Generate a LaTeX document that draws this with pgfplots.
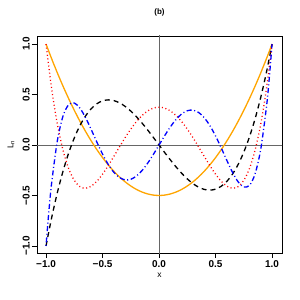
\documentclass[border=0pt]{standalone}
\usepackage{pgfplots}
\pgfplotsset{compat=1.18}
\usepackage{fontspec}
\setmainfont{Liberation Sans}
\definecolor{rorange}{HTML}{FFA500}
\definecolor{rblue}{HTML}{0000FF}
\definecolor{rred}{HTML}{FF0000}
\begin{document}
\begin{tikzpicture}
\path[use as bounding box] (-37bp,-47bp) rectangle (263bp,253bp);
\begin{axis}[
  at={(0,0)}, anchor=south west,
  scale only axis, width=245bp, height=217bp,
  xmin=-1.08, xmax=1.088, ymin=-1.07, ymax=1.08,
  axis line style={black, line width=0.6bp},
  xtick={-1,-0.5,0,0.5,1}, xticklabels={−1.0,−0.5,0.0,0.5,1.0},
  ytick={-1,-0.5,0,0.5,1}, yticklabels={−1.0,−0.5,0.0,0.5,1.0},
  tick align=outside, tick pos=left,
  major tick length=5bp,
  tick style={black, line width=0.6bp},
  ticklabel style={font=\fontsize{10}{12}\selectfont\bfseries, inner sep=2bp},
  y tick label style={rotate=90, anchor=south},
  xlabel={x}, ylabel={L\textsubscript{n}},
  label style={font=\fontsize{8.5}{10}\selectfont},
  xlabel style={at={(axis description cs:0.5,-0.101)}, anchor=center},
  ylabel style={at={(axis description cs:-0.106,0.5)}, anchor=center},
  title={(b)},
  title style={font=\fontsize{8}{10}\selectfont\bfseries, at={(axis description cs:0.5,1.083)}, anchor=center},
  every axis plot/.append style={line width=1.3bp, smooth, no markers},
]
\addplot[gray!80!black, line width=0.7bp, sharp plot] coordinates {(-1.2,0) (1.2,0)};
\addplot[gray!80!black, line width=0.7bp, sharp plot] coordinates {(0,-1.2) (0,1.2)};
% P2
\addplot[rorange] coordinates {
(-1,1) (-0.95,0.85375) (-0.9,0.715) (-0.85,0.58375) (-0.8,0.46) (-0.75,0.34375) (-0.7,0.235) (-0.65,0.13375) (-0.6,0.04) (-0.55,-0.04625) (-0.5,-0.125) (-0.45,-0.19625) (-0.4,-0.26) (-0.35,-0.31625) (-0.3,-0.365) (-0.25,-0.40625) (-0.2,-0.44) (-0.15,-0.46625) (-0.1,-0.485) (-0.05,-0.49625) (0,-0.5)
(0.05,-0.49625) (0.1,-0.485) (0.15,-0.46625) (0.2,-0.44) (0.25,-0.40625) (0.3,-0.365) (0.35,-0.31625) (0.4,-0.26) (0.45,-0.19625) (0.5,-0.125) (0.55,-0.04625) (0.6,0.04) (0.65,0.13375) (0.7,0.235) (0.75,0.34375) (0.8,0.46) (0.85,0.58375) (0.9,0.715) (0.95,0.85375) (1,1)};
% P3
\addplot[black, dash pattern=on 5bp off 4bp] coordinates {
(-1,-1) (-0.95,-0.71844) (-0.9,-0.4725) (-0.85,-0.26031) (-0.8,-0.08) (-0.75,0.07031) (-0.7,0.1925) (-0.65,0.28844) (-0.6,0.36) (-0.55,0.40906) (-0.5,0.4375) (-0.45,0.44719) (-0.4,0.44) (-0.35,0.41781) (-0.3,0.3825) (-0.25,0.33594) (-0.2,0.28) (-0.15,0.21656) (-0.1,0.1475) (-0.05,0.07469) (0,0)
(0.05,-0.07469) (0.1,-0.1475) (0.15,-0.21656) (0.2,-0.28) (0.25,-0.33594) (0.3,-0.3825) (0.35,-0.41781) (0.4,-0.44) (0.45,-0.44719) (0.5,-0.4375) (0.55,-0.40906) (0.6,-0.36) (0.65,-0.28844) (0.7,-0.1925) (0.75,-0.07031) (0.8,0.08) (0.85,0.26031) (0.9,0.4725) (0.95,0.71844) (1,1)};
% P4
\addplot[rred, dash pattern=on 1bp off 2.6bp] coordinates {
(-1,1) (-0.95,0.55409) (-0.9,0.20794) (-0.85,-0.0506) (-0.8,-0.233) (-0.75,-0.3501) (-0.7,-0.41206) (-0.65,-0.42841) (-0.6,-0.408) (-0.55,-0.35904) (-0.5,-0.28906) (-0.45,-0.20497) (-0.4,-0.113) (-0.35,-0.01872) (-0.3,0.07294) (-0.25,0.15771) (-0.2,0.232) (-0.15,0.29284) (-0.1,0.33794) (-0.05,0.36565) (0,0.375)
(0.05,0.36565) (0.1,0.33794) (0.15,0.29284) (0.2,0.232) (0.25,0.15771) (0.3,0.07294) (0.35,-0.01872) (0.4,-0.113) (0.45,-0.20497) (0.5,-0.28906) (0.55,-0.35904) (0.6,-0.408) (0.65,-0.42841) (0.7,-0.41206) (0.75,-0.3501) (0.8,-0.233) (0.85,-0.0506) (0.9,0.20794) (0.95,0.55409) (1,1)};
% P5
\addplot[rblue, dash pattern=on 1bp off 2.6bp on 5bp off 2.6bp] coordinates {
(-1,-1) (-0.975,-0.65674) (-0.95,-0.37274) (-0.9,0.04114) (-0.85,0.28566) (-0.8,0.39952) (-0.75,0.41638) (-0.7,0.3652) (-0.65,0.27049) (-0.6,0.15264) (-0.55,0.0282) (-0.5,-0.08984) (-0.45,-0.19172) (-0.4,-0.27064) (-0.35,-0.32245) (-0.3,-0.34539) (-0.25,-0.33972) (-0.2,-0.30752) (-0.15,-0.25232) (-0.1,-0.17883) (-0.05,-0.09266) (0,0)
(0.05,0.09266) (0.1,0.17883) (0.15,0.25232) (0.2,0.30752) (0.25,0.33972) (0.3,0.34539) (0.35,0.32245) (0.4,0.27064) (0.45,0.19172) (0.5,0.08984) (0.55,-0.0282) (0.6,-0.15264) (0.65,-0.27049) (0.7,-0.3652) (0.75,-0.41638) (0.8,-0.39952) (0.85,-0.28566) (0.9,-0.04114) (0.95,0.37274) (0.975,0.65674) (1,1)};
\end{axis}
\end{tikzpicture}
\end{document}
